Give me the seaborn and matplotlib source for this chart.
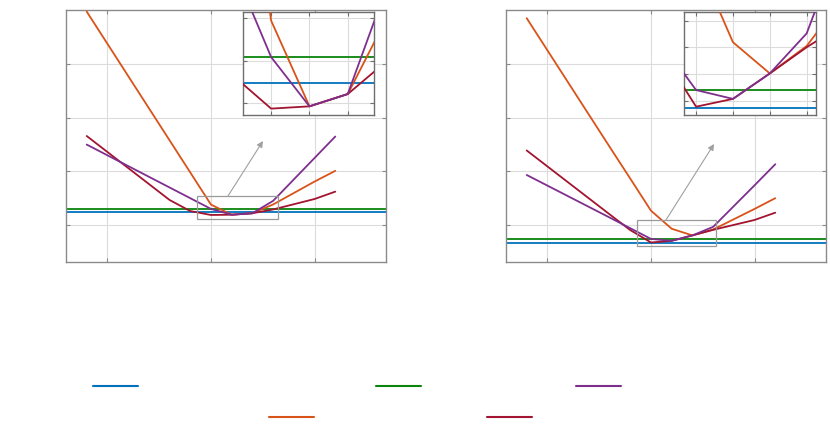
import matplotlib
matplotlib.use("Agg")
import matplotlib.pyplot as plt
from matplotlib.patches import Rectangle
from matplotlib.lines import Line2D
import seaborn as sns
import pandas as pd

# ---------------- data ----------------
x_vals = [-1.2, -0.4, -0.2, 0.0, 0.2, 0.4, 0.6, 1.0, 1.2]

orange_left = [4.98, 2.58, 1.98, 1.38, 1.192, 1.219, 1.383, 1.81, 2.01]
red_left = [2.66, 1.467, 1.26, 1.187, 1.192, 1.219, 1.29, 1.485, 1.622]
purple_left = [2.50, 1.70, 1.50, 1.30, 1.192, 1.219, 1.45, 2.25, 2.65]
blue_left = 1.243
green_left = 1.300

orange_right = [4.857, 2.46, 1.865, 1.267, 0.93, 0.806, 0.915, 1.30, 1.50]
red_right = [2.39, 1.20, 0.905, 0.674, 0.705, 0.806, 0.91, 1.094, 1.23]
purple_right = [1.933, 1.14, 0.94, 0.74, 0.705, 0.806, 0.965, 1.74, 2.133]
blue_right = 0.670
green_right = 0.739

series_names = ["orange", "red", "purple"]
colors = {"blue": "#0072BD", "orange": "#D95319", "green": "#0A840A",
          "red": "#A2142F", "purple": "#7E2F8E"}

main_xticks = [-1, 0, 1]
main_yticks = [1, 2, 3, 4]
main_xlim = (-1.40, 1.69)
main_ylim = (0.31, 5.01)

# inset settings (left, right)
inset_xlim = [(-0.147, 0.537), (-0.064, 0.649)]
inset_ylim = [(1.173, 1.399), (0.641, 1.050)]
inset_xticks = [[0.0, 0.2, 0.4], [0.0, 0.2, 0.4, 0.6]]
inset_yticks = [[1.199, 1.292, 1.385], [0.698, 0.804, 0.910, 1.015]]
zoom_rect = [(-0.135, 1.112, 0.782, 0.429), (-0.135, 0.608, 0.763, 0.486)]
arrow_from = [(0.164, 1.541), (0.145, 1.094)]
arrow_to = [(0.502, 2.567), (0.609, 2.511)]

# ---------------- figure ----------------
sns.set_style("white")
plt.rcParams['font.family'] = ['DejaVu Sans']
fig = plt.figure(figsize=(8.3, 4.28), dpi=100)

main_pos = [[66 / 830, 166 / 428, 320 / 830, 252 / 428],
            [506 / 830, 166 / 428, 320 / 830, 252 / 428]]
inset_pos = [[243 / 830, 313 / 428, 131 / 830, 103 / 428],
             [684.3 / 830, 313 / 428, 131.4 / 830, 103 / 428]]

panels = [
    (orange_left, red_left, purple_left, blue_left, green_left),
    (orange_right, red_right, purple_right, blue_right, green_right),
]


def make_df(orange, red, purple):
    rows = []
    for name, vals in zip(series_names, [orange, red, purple]):
        for xv, yv in zip(x_vals, vals):
            rows.append({"x": xv, "y": yv, "series": name})
    return pd.DataFrame(rows)


def draw_lines(ax, df, blue, green, lw):
    ax.axhline(blue, color=colors["blue"], lw=lw, zorder=2)
    ax.axhline(green, color=colors["green"], lw=lw, zorder=2)
    sns.lineplot(data=df, x="x", y="y", hue="series", hue_order=series_names,
                 palette=colors, estimator=None, sort=False, lw=lw,
                 legend=False, ax=ax, zorder=3)


def style_ax(ax, spine_color):
    ax.grid(True, color="#dcdcdc", lw=0.8)
    ax.set_axisbelow(True)
    for s in ax.spines.values():
        s.set_visible(True)
        s.set_color(spine_color)
        s.set_linewidth(1.0)
    ax.tick_params(direction="in", length=3, color=spine_color,
                   top=True, right=True, bottom=True, left=True,
                   labelbottom=False, labelleft=False)
    ax.set_xlabel("")
    ax.set_ylabel("")


for i, (orange, red, purple, blue, green) in enumerate(panels):
    df = make_df(orange, red, purple)

    ax = fig.add_axes(main_pos[i])
    draw_lines(ax, df, blue, green, 1.3)
    ax.set_xlim(*main_xlim)
    ax.set_ylim(*main_ylim)
    ax.set_xticks(main_xticks)
    ax.set_yticks(main_yticks)
    style_ax(ax, "#8a8a8a")
    rx, ry, rw, rh = zoom_rect[i]
    ax.add_patch(Rectangle((rx, ry), rw, rh, fill=False, ec="#9a9a9a",
                           lw=0.9, zorder=4))
    ax.annotate("", xy=arrow_to[i], xytext=arrow_from[i],
                arrowprops=dict(arrowstyle="-|>", color="#a0a0a0", lw=0.8,
                                mutation_scale=9, shrinkA=0, shrinkB=0))

    axi = fig.add_axes(inset_pos[i])
    draw_lines(axi, df, blue, green, 1.3)
    axi.set_xlim(*inset_xlim[i])
    axi.set_ylim(*inset_ylim[i])
    axi.set_xticks(inset_xticks[i])
    axi.set_yticks(inset_yticks[i])
    style_ax(axi, "#6e6e6e")
    axi.set_facecolor("white")

# legend entries (row 1: blue, green, purple; row 2: orange, red)
legend_entries = [("blue", 93, 387), ("green", 376, 387), ("purple", 576, 387),
                  ("orange", 269, 418), ("red", 487, 418)]
for name, px, py in legend_entries:
    h = Line2D([], [], color=colors[name], lw=1.5)
    fig.legend([h], [""], loc="center left",
               bbox_to_anchor=(px / 830, (428 - py) / 428),
               frameon=False, borderpad=0, borderaxespad=0,
               handletextpad=0, handlelength=45 / 13.9)

fig.savefig("out.png", dpi=100)
